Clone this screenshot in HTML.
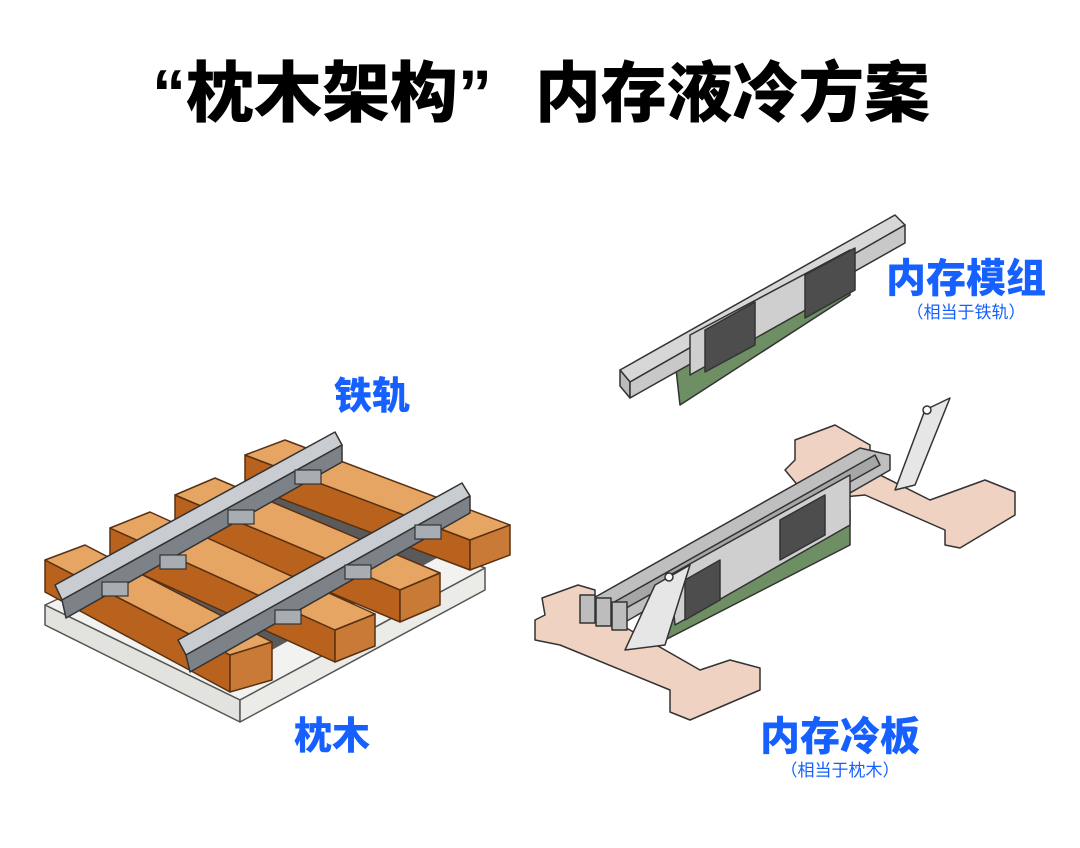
<!DOCTYPE html>
<html><head><meta charset="utf-8"><style>
html,body{margin:0;padding:0;background:#fff;}
svg{display:block}
text{font-family:"Liberation Sans","Noto Sans CJK SC",sans-serif;}
</style></head><body>
<svg width="1080" height="848" viewBox="0 0 1080 848" xmlns="http://www.w3.org/2000/svg">
<rect width="1080" height="848" fill="#fff"/>
<text x="152" y="116" font-size="66" font-weight="900" fill="#000" textLength="340" lengthAdjust="spacingAndGlyphs">“枕木架构”</text>
<text x="535" y="116" font-size="66" font-weight="900" fill="#000" textLength="395" lengthAdjust="spacingAndGlyphs">内存液冷方案</text>

<!-- LEFT: railway -->
<g stroke="#555" stroke-width="1.5" stroke-linejoin="round">
<polygon points="45,605 290,490 485,568 240,700" fill="#f2f2f0"/>
<polygon points="45,605 240,700 240,722 45,625" fill="#e2e2df"/>
<polygon points="240,700 485,568 485,590 240,722" fill="#ebebe8"/>
<polygon points="80,580 300,470 460,545 245,665" fill="#5a5a5a" stroke="none"/>
</g>
<g stroke="#5a3010" stroke-width="1.5" stroke-linejoin="round">
<polygon points="245,455 470,540 470,570 245,485" fill="#b8621e"/>
<polygon points="245,455 285,440 510,525 470,540" fill="#e6a563"/>
<polygon points="470,540 510,525 510,555 470,570" fill="#c97a36"/>

<polygon points="175,495 400,590 400,622 175,527" fill="#b8621e"/>
<polygon points="175,495 215,478 440,573 400,590" fill="#e6a563"/>
<polygon points="400,590 440,573 440,605 400,622" fill="#c97a36"/>

<polygon points="110,528 335,630 335,662 110,560" fill="#b8621e"/>
<polygon points="110,528 150,512 375,614 335,630" fill="#e6a563"/>
<polygon points="335,630 375,614 375,646 335,662" fill="#c97a36"/>

<polygon points="45,560 230,655 230,692 45,592" fill="#b8621e"/>
<polygon points="45,560 85,545 272,642 230,655" fill="#e6a563"/>
<polygon points="230,655 272,642 272,680 230,692" fill="#c97a36"/>
</g>
<g stroke="#333" stroke-width="1.5" stroke-linejoin="round">
<polygon points="55,585 335,432 342,445 62,600" fill="#c9ccd0"/>
<polygon points="62,600 342,445 342,462 66,618" fill="#7d8288"/>
<polygon points="178,640 462,483 470,496 186,655" fill="#c9ccd0"/>
<polygon points="186,655 470,496 470,513 190,672" fill="#7d8288"/>
</g>
<g fill="#a8adb3" stroke="#333" stroke-width="1.2">
<rect x="102" y="582" width="26" height="14"/>
<rect x="160" y="555" width="26" height="14"/>
<rect x="228" y="510" width="26" height="14"/>
<rect x="295" y="470" width="26" height="14"/>
<rect x="275" y="610" width="26" height="14"/>
<rect x="345" y="565" width="26" height="14"/>
<rect x="415" y="525" width="26" height="14"/>
</g>

<!-- RIGHT: memory module top -->
<g stroke="#333" stroke-width="1.5" stroke-linejoin="round">
<polygon points="675,360 850,265 850,295 680,405" fill="#6e8f63"/>
<polygon points="620,370 895,215 905,225 630,382" fill="#d7d7d7"/>
<polygon points="620,370 630,382 630,398 620,386" fill="#bbb"/>
<polygon points="630,382 905,225 905,243 630,398" fill="#c8c8c8"/>
<polygon points="690,335 850,250 850,285 690,375" fill="#cfcfcf"/>
<polygon points="705,330 755,302 755,345 705,372" fill="#4d4d4d"/>
<polygon points="805,275 855,248 855,290 805,318" fill="#4d4d4d"/>
</g>

<!-- RIGHT: cold plate -->
<g stroke="#333" stroke-width="1.5" stroke-linejoin="round">
<polygon points="795,440 835,425 870,445 870,470 930,500 985,480 1015,492 1015,515 960,548 945,545 945,530 865,495 810,500 785,470 795,460" fill="#efd2c1"/>
<polygon points="542,598 578,585 595,590 595,610 700,670 730,660 760,668 760,690 690,720 670,712 670,690 560,645 535,640 535,620 545,615" fill="#efd2c1"/>
<polygon points="660,620 850,510 850,545 665,640" fill="#6e8f63"/>
<polygon points="590,600 860,448 890,455 890,470 620,625" fill="#bfbfbf"/>
<polygon points="600,610 875,455 880,465 605,620" fill="#a6a6a6"/>
<polygon points="670,575 850,475 850,525 675,625" fill="#cfcfcf"/>
<polygon points="685,580 720,560 720,600 685,620" fill="#4d4d4d"/>
<polygon points="780,520 825,495 825,535 780,560" fill="#4d4d4d"/>
<rect x="580" y="595" width="15" height="28" fill="#bdbdbd"/>
<rect x="596" y="598" width="15" height="28" fill="#bdbdbd"/>
<rect x="612" y="602" width="15" height="28" fill="#bdbdbd"/>
<polygon points="625,650 655,585 690,565 665,645" fill="#e6e6e6"/>
<polygon points="895,490 925,410 950,398 915,485" fill="#e6e6e6"/>
<circle cx="927" cy="410" r="4" fill="#fff"/>
<circle cx="669" cy="577" r="4" fill="#fff"/>
</g>

<g fill="#1560ff" font-weight="900">
<text x="372" y="409" font-size="38" text-anchor="middle">铁轨</text>
<text x="332" y="749" font-size="38" text-anchor="middle">枕木</text>
<text x="966" y="292" font-size="40" text-anchor="middle">内存模组</text>
<text x="840" y="750" font-size="40" text-anchor="middle">内存冷板</text>
</g>
<g fill="#1560ff" font-size="17">
<text x="966" y="318" text-anchor="middle">（相当于铁轨）</text>
<text x="840" y="776" text-anchor="middle">（相当于枕木）</text>
</g>
</svg>
</body></html>
